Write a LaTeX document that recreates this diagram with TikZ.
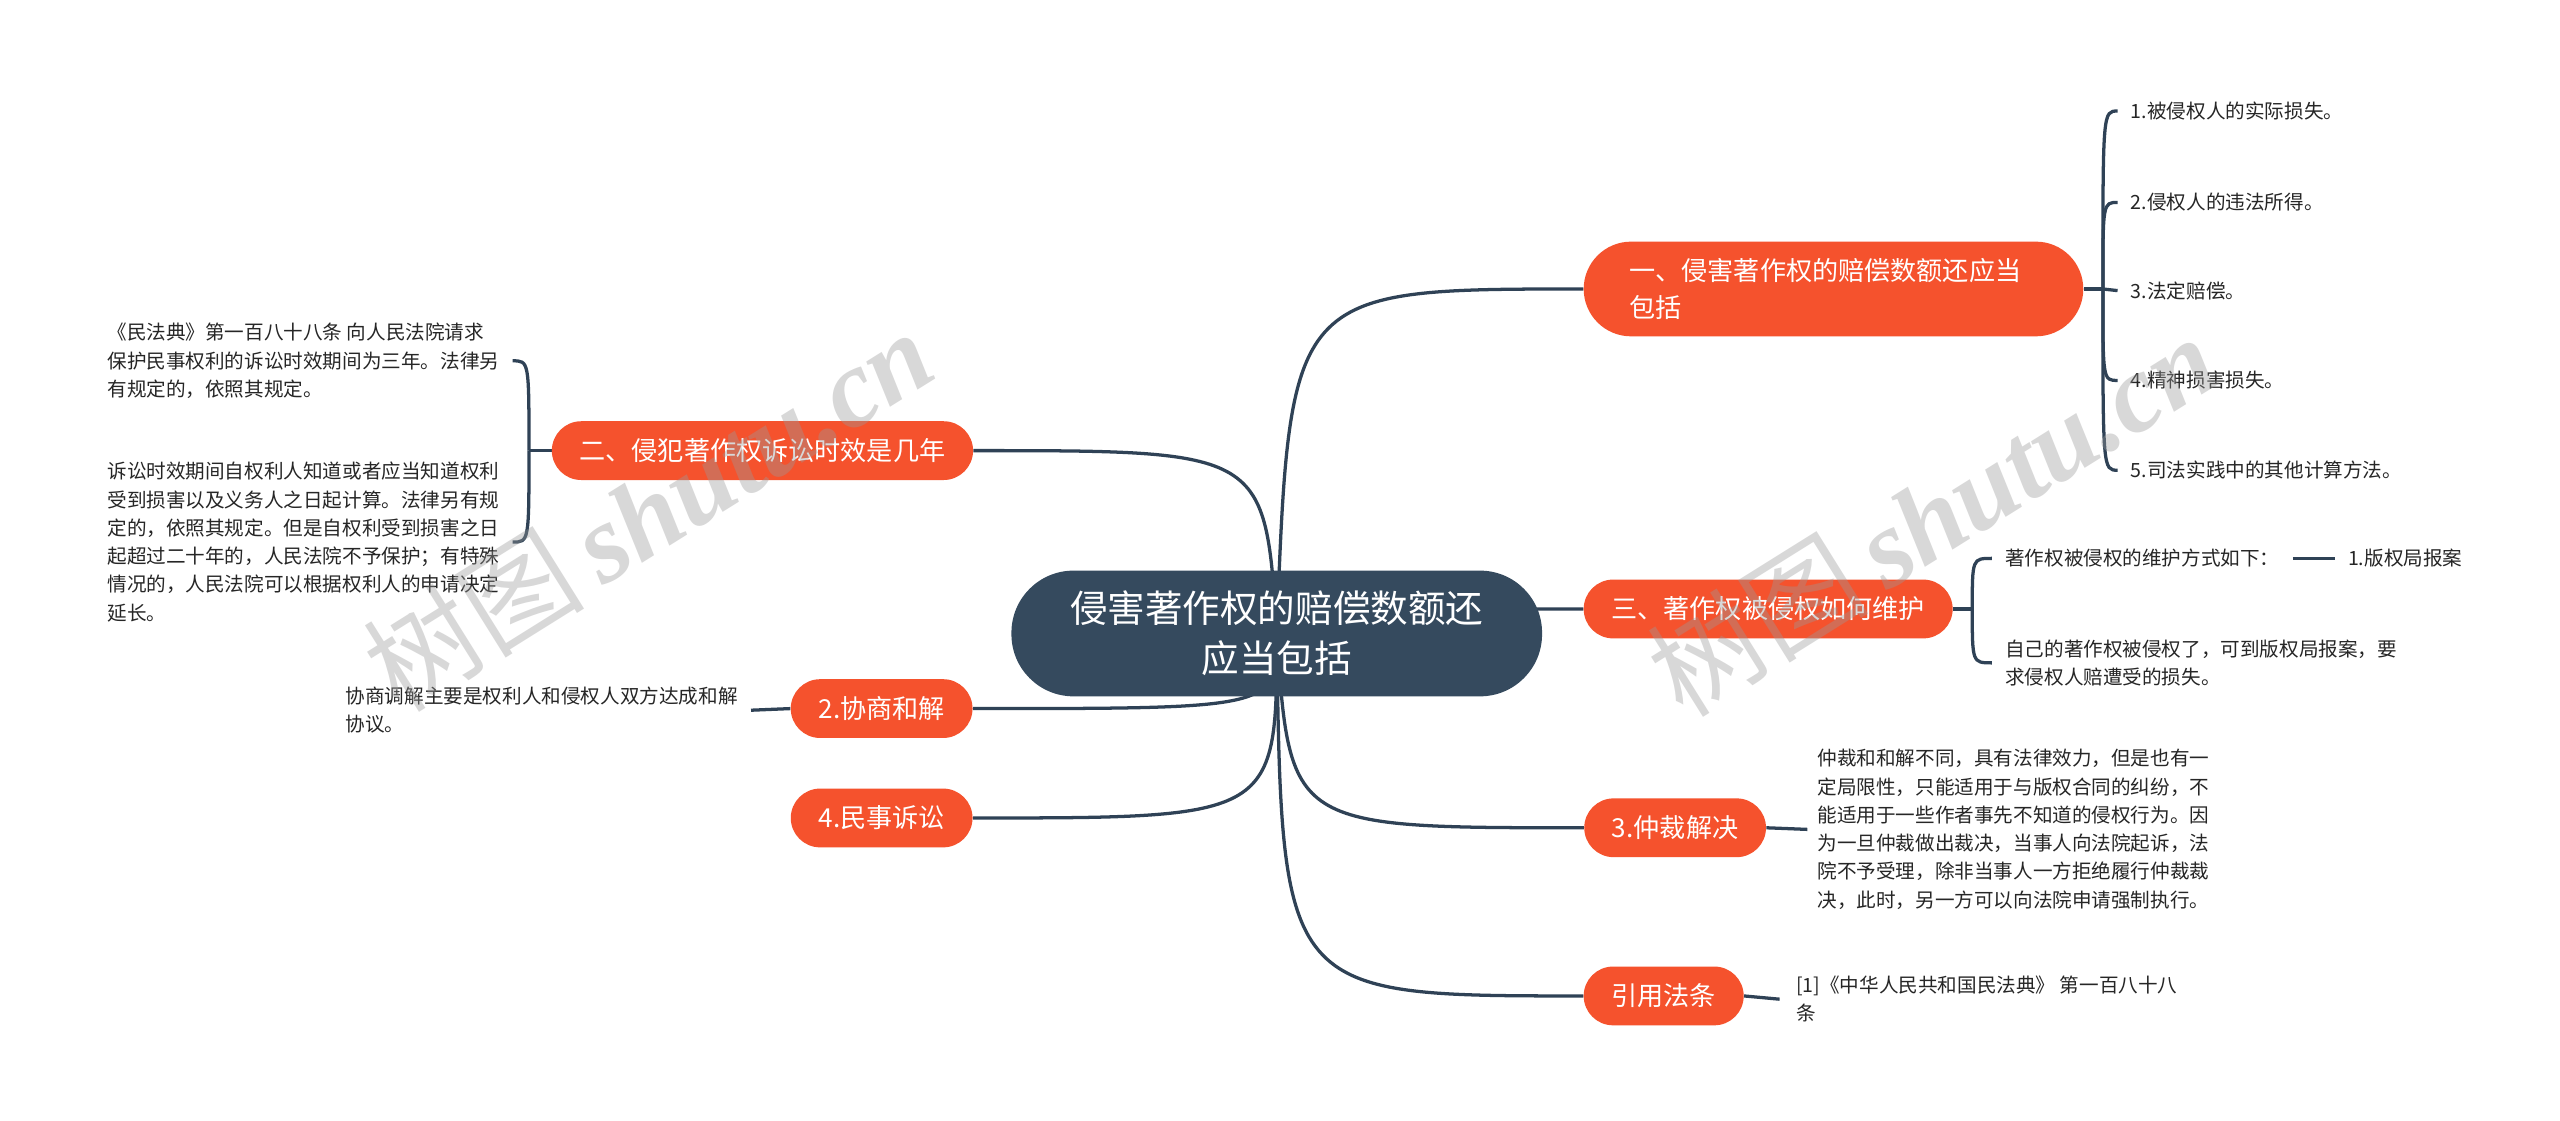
\documentclass[tikz,border=0pt]{standalone}
\usepackage{fontspec}
\setmainfont{Noto Sans CJK SC}
\newfontfamily\wmserif{Liberation Serif}
\newfontfamily\wmcjk{Noto Sans CJK SC}
\usetikzlibrary{calc}
\pgfdeclarelayer{bg}
\pgfdeclarelayer{paper}
\pgfsetlayers{paper,bg,main}
\definecolor{rootc}{HTML}{354A5E}
\definecolor{branchc}{HTML}{F5522D}
\definecolor{linec}{HTML}{2F4256}
\definecolor{leaftext}{HTML}{262626}
\begin{document}
\begin{tikzpicture}[x=1pt,y=-1pt,
  conn/.style={draw=linec,line width=2pt},
  rootnode/.style={fill=rootc,text=white,rounded corners=38pt,minimum width=325pt,minimum height=77pt,align=center,inner sep=0pt,font=\fontsize{23}{30.5}\selectfont},
  branch/.style={fill=branchc,text=white,rounded corners=18pt,minimum height=36pt,inner xsep=17pt,inner ysep=0pt,font=\fontsize{16}{22.5}\selectfont},
  leaf/.style={text=leaftext,align=left,inner xsep=8pt,inner ysep=2pt,font=\fontsize{12}{17.3}\selectfont},
  wm/.style={text=black!40,opacity=0.38,rotate=32,inner sep=0pt}
]
\begin{pgfonlayer}{paper}
\fill[white] (0,0) rectangle (1568,686);
\end{pgfonlayer}
\useasboundingbox (0,0) rectangle (1568,686);

% root
\node[rootnode] (root) at (782,388) {侵害著作权的赔偿数额还\\应当包括};

% branches
\node[branch,rounded corners=29pt,minimum height=58pt,inner xsep=28pt,text width=250pt,align=left] (b1) at (1123,177) {一、侵害著作权的赔偿数额还应当\\包括};
\node[branch] (b2) at (467,276) {二、侵犯著作权诉讼时效是几年};
\node[branch] (b3) at (1083,373) {三、著作权被侵权如何维护};
\node[branch] (b4) at (540,434) {2.协商和解};
\node[branch] (b5) at (540,501) {4.民事诉讼};
\node[branch] (b6) at (1026,507) {3.仲裁解决};
\node[branch] (b7) at (1019,610) {引用法条};

% leaves of b1
\coordinate (j1) at (1288,177);
\node[leaf,anchor=west] (l11) at (1297,68) {1.被侵权人的实际损失。};
\node[leaf,anchor=west] (l12) at (1297,124) {2.侵权人的违法所得。};
\node[leaf,anchor=west] (l13) at (1297,178) {3.法定赔偿。};
\node[leaf,anchor=west] (l14) at (1297,233) {4.精神损害损失。};
\node[leaf,anchor=west] (l15) at (1297,288) {5.司法实践中的其他计算方法。};

% leaves of b2
\coordinate (j2) at (324,276);
\node[leaf,anchor=east] (l21) at (314,221) {《民法典》第一百八十八条 向人民法院请求\\保护民事权利的诉讼时效期间为三年。法律另\\有规定的，依照其规定。};
\node[leaf,anchor=east] (l22) at (314,332) {诉讼时效期间自权利人知道或者应当知道权利\\受到损害以及义务人之日起计算。法律另有规\\定的，依照其规定。但是自权利受到损害之日\\起超过二十年的，人民法院不予保护；有特殊\\情况的，人民法院可以根据权利人的申请决定\\延长。};

% leaves of b3
\coordinate (j3) at (1208,373);
\node[leaf,anchor=west] (l31) at (1220,342) {著作权被侵权的维护方式如下：};
\node[leaf,anchor=west] (l32) at (1430,342) {1.版权局报案};
\node[leaf,anchor=west] (l33) at (1220,406) {自己的著作权被侵权了，可到版权局报案，要\\求侵权人赔遭受的损失。};

% leaf of b4
\node[leaf,anchor=east] (l41) at (460,435) {协商调解主要是权利人和侵权人双方达成和解\\协议。};

% leaf of b6
\node[leaf,anchor=west,inner xsep=6pt] (l61) at (1107,508) {仲裁和和解不同，具有法律效力，但是也有一\\定局限性，只能适用于与版权合同的纠纷，不\\能适用于一些作者事先不知道的侵权行为。因\\为一旦仲裁做出裁决，当事人向法院起诉，法\\院不予受理，除非当事人一方拒绝履行仲裁裁\\决，此时，另一方可以向法院申请强制执行。};

% leaf of b7
\node[leaf,anchor=west,inner xsep=10pt] (l71) at (1090,612) {[1]《中华人民共和国民法典》 第一百八十八\\条};

\begin{pgfonlayer}{bg}
  % root to branches
  \draw[conn] (root.center) .. controls (790,177) .. (b1.west);
  \draw[conn] (root.center) .. controls (775,276) .. (b2.east);
  \draw[conn] (root.center) .. controls (790,373) .. (b3.west);
  \draw[conn] (root.center) .. controls (782,434) .. (b4.east);
  \draw[conn] (root.center) .. controls (782,501) .. (b5.east);
  \draw[conn] (root.center) .. controls (790,507) .. (b6.west);
  \draw[conn] (root.center) .. controls (785,610) .. (b7.west);
  % b1 bracket
  \draw[conn] (b1.east) -- (j1);
  \draw[conn] (j1) .. controls (j1 |- l11.west) .. (l11.west);
  \draw[conn] (j1) .. controls (j1 |- l12.west) .. (l12.west);
  \draw[conn] (j1) -- (l13.west);
  \draw[conn] (j1) .. controls (j1 |- l14.west) .. (l14.west);
  \draw[conn] (j1) .. controls (j1 |- l15.west) .. (l15.west);
  % b2 bracket
  \draw[conn] (b2.west) -- (j2);
  \draw[conn] (j2) .. controls (j2 |- l21.east) .. (l21.east);
  \draw[conn] (j2) .. controls (j2 |- l22.east) .. (l22.east);
  % b3 bracket
  \draw[conn] (b3.east) -- (j3);
  \draw[conn] (j3) .. controls (j3 |- l31.west) .. (l31.west);
  \draw[conn] (j3) .. controls (j3 |- l33.west) .. (l33.west);
  \draw[conn] (l31.east) -- (l32.west);
  % single leaves
  \draw[conn] (b4.west) -- (l41.east);
  \draw[conn] (b6.east) -- (l61.west);
  \draw[conn] (b7.east) -- (l71.west);
\end{pgfonlayer}

% watermarks
\node[wm] (wm1) at (397,312) {\fontsize{68}{68}\selectfont\wmcjk 树图\,\wmserif\bfseries\itshape shutu.cn};
\node[wm] (wm2) at (1183,315) {\fontsize{68}{68}\selectfont\wmcjk 树图\,\wmserif\bfseries\itshape shutu.cn};
\end{tikzpicture}
\end{document}
